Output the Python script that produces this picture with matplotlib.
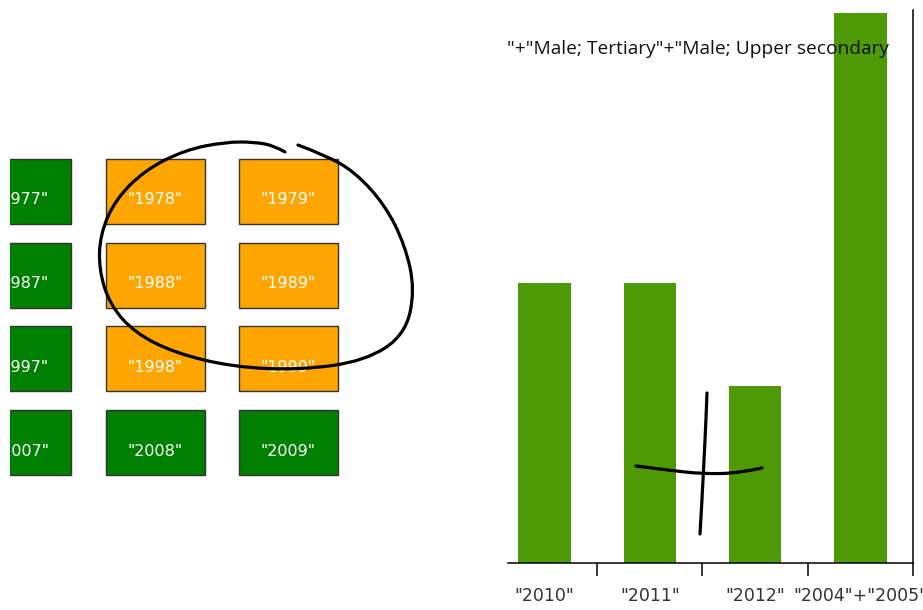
import matplotlib
matplotlib.use("Agg")
from matplotlib import pyplot as plt
from matplotlib.patches import Rectangle, PathPatch
from matplotlib.path import Path
import numpy as np

# year tiles (rows x cols) and their fill colours
grid_years = [[1977, 1978, 1979],
              [1987, 1988, 1989],
              [1997, 1998, 1999],
              [2007, 2008, 2009]]
grid_colors = [["green", "orange", "orange"],
               ["green", "orange", "orange"],
               ["green", "orange", "orange"],
               ["green", "green", "green"]]

# bar chart
bar_labels = ['"2010"', '"2011"', '"2012"', '"2004"+"2005"']
bar_values = [50.6, 50.6, 32.0, 99.5]
title_text = '"+"Male; Tertiary"+"Male; Upper secondary'

# hand drawn marks (pixel coords of the screenshot)
circle_x = [285, 275, 255, 225, 185, 145, 115, 100, 99, 110, 135, 175, 233, 300, 365, 405, 415, 405, 385, 355, 325, 298]
circle_y = [152, 146, 142, 142, 150, 170, 200, 235, 270, 305, 333, 353, 367, 370, 361, 335, 290, 245, 205, 172, 155, 145]
cross_h_x = [636, 667, 703, 740, 762]
cross_h_y = [466, 470, 474, 473, 468]
cross_v_x = [707, 706, 704, 702, 700]
cross_v_y = [393, 420, 460, 500, 534]

W, H = 923, 610
fig = plt.figure(figsize=(W / 100, H / 100), dpi=100)
fig.patch.set_facecolor("white")


def fig_rect(x0, y0, x1, y1):
    # pixel box (top-left origin) -> figure fraction
    return [x0 / W, 1 - y1 / H, (x1 - x0) / W, (y1 - y0) / H]


# ---- tile grid, clipped at x=10
gax = fig.add_axes(fig_rect(10, 0, 470, H))
gax.set_xlim(10, 470)
gax.set_ylim(H, 0)
gax.axis("off")
for r, row in enumerate(grid_years):
    for c, year in enumerate(row):
        x0 = -28 + c * 133.5
        y0 = 159 + r * 83.7
        gax.add_patch(Rectangle((x0, y0), 99, 65, facecolor=grid_colors[r][c],
                                edgecolor="#333333", linewidth=1.0))
        gax.text(x0 + 49.5, y0 + 41, '"%d"' % year, color="white", fontsize=11.5,
                 ha="center", va="center", clip_on=True)

# ---- bar chart
bax = fig.add_axes(fig_rect(508, 10, 913, 563))
xs = np.arange(len(bar_values))
bax.bar(xs, bar_values, width=0.5, color="#4E9A06")
bax.set_xlim(-0.5 + 16 / 105, 3.5)
bax.set_ylim(0, 100)
for s in ["left", "top"]:
    bax.spines[s].set_visible(False)
for s in ["bottom", "right"]:
    bax.spines[s].set_linewidth(1.1)
bax.set_yticks([])
bax.set_xticks(xs)
bax.set_xticklabels(bar_labels, fontsize=12.5, color="#333333")
bax.tick_params(axis="x", which="major", length=0, pad=17)
bax.set_xticks(xs + 0.5, minor=True)
bax.tick_params(axis="x", which="minor", length=9, width=1.1, direction="out")
bax.patch.set_alpha(0)

# ---- overlay: title text and pen strokes
oax = fig.add_axes([0, 0, 1, 1])
oax.set_xlim(0, W)
oax.set_ylim(H, 0)
oax.axis("off")
oax.patch.set_alpha(0)
oax.text(507, 49, title_text, fontsize=13.8, family="Open Sans", color="#111111",
         ha="left", va="center")


def stroke(px, py):
    pts = list(zip(px, py))
    verts = [pts[0]]
    codes = [Path.MOVETO]
    for i in range(1, len(pts) - 1):
        mid = ((pts[i][0] + pts[i + 1][0]) / 2, (pts[i][1] + pts[i + 1][1]) / 2)
        if i == len(pts) - 2:
            mid = pts[-1]
        verts += [pts[i], mid]
        codes += [Path.CURVE3, Path.CURVE3]
    oax.add_patch(PathPatch(Path(verts, codes), facecolor="none", edgecolor="black",
                            linewidth=2.3, capstyle="round", joinstyle="round"))


stroke(circle_x, circle_y)
stroke(cross_h_x, cross_h_y)
stroke(cross_v_x, cross_v_y)

fig.savefig("out.png", dpi=100)
